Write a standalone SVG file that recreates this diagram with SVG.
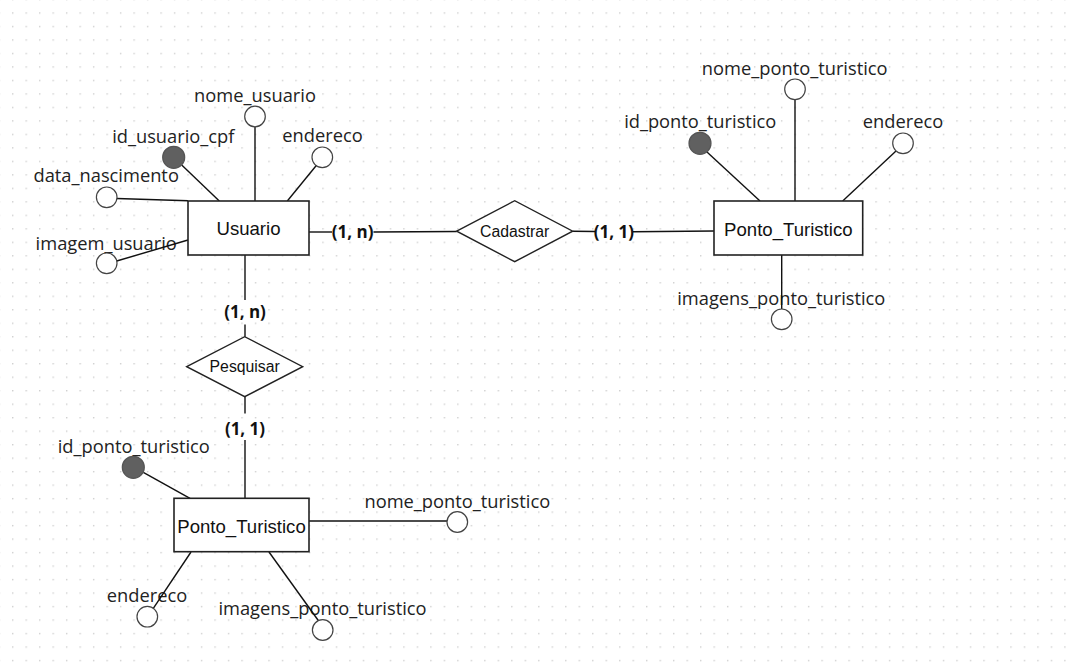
<svg xmlns="http://www.w3.org/2000/svg" width="1066" height="670" viewBox="0 0 1066 670">
<defs>
<pattern id="grid" x="12" y="12.3" width="13.49" height="13.49" patternUnits="userSpaceOnUse">
<rect x="0" y="0" width="1.4" height="1.4" fill="#cfcfcf"/>
</pattern>
<style>
.ent{fill:#fff;stroke:#222;stroke-width:1.6}
.rel{fill:#fff;stroke:#222;stroke-width:1.4}
.att{fill:#fff;stroke:#444;stroke-width:1.2}
.key{fill:#606060;stroke:#555;stroke-width:1.2}
.ln{stroke:#111;stroke-width:1.4;fill:none}
.at{font-family:"Open Sans","Noto Sans",sans-serif;font-size:18.3px;fill:#222;text-anchor:middle}
.et{font-family:"Liberation Sans",Arial,sans-serif;font-size:18.6px;fill:#111;text-anchor:middle;dominant-baseline:central}
.rt{font-family:"Liberation Sans",Arial,sans-serif;font-size:15.8px;fill:#111;text-anchor:middle;dominant-baseline:central}
.ct{font-family:"Open Sans","Noto Sans",sans-serif;font-size:17px;font-weight:700;fill:#111;text-anchor:middle;dominant-baseline:central}
</style>
</defs>
<rect width="1066" height="670" fill="#fff"/>
<rect width="1066" height="670" fill="url(#grid)"/>

<g id="attr-labels">
<text class="at" x="255" y="102">nome_usuario</text>
<text class="at" x="173.3" y="142.5">id_usuario_cpf</text>
<text class="at" x="322.5" y="142">endereco</text>
<text class="at" x="106.2" y="181.5">data_nascimento</text>
<text class="at" x="106.2" y="250">imagem_usuario</text>
<text class="at" x="794.7" y="75">nome_ponto_turistico</text>
<text class="at" x="700.2" y="128.3">id_ponto_turistico</text>
<text class="at" x="903" y="128">endereco</text>
<text class="at" x="781.3" y="305">imagens_ponto_turistico</text>
<text class="at" x="133.8" y="453.3">id_ponto_turistico</text>
<text class="at" x="457.3" y="508.3">nome_ponto_turistico</text>
<text class="at" x="147" y="601.7">endereco</text>
<text class="at" x="322.5" y="615">imagens_ponto_turistico</text>
</g>

<g id="connectors">
<line class="ln" x1="255" y1="127" x2="255" y2="201"/>
<line class="ln" x1="181.7" y1="165" x2="219.3" y2="201"/>
<line class="ln" x1="316.7" y1="165" x2="287.3" y2="201"/>
<line class="ln" x1="116.7" y1="198.5" x2="188" y2="200.7"/>
<line class="ln" x1="116.7" y1="261" x2="188" y2="240"/>
<line class="ln" x1="795" y1="100" x2="795" y2="201"/>
<line class="ln" x1="706.7" y1="151.7" x2="760" y2="201"/>
<line class="ln" x1="896" y1="151" x2="842.7" y2="201"/>
<line class="ln" x1="781.7" y1="255" x2="781.7" y2="309.3"/>
<line class="ln" x1="143.3" y1="472.3" x2="190" y2="498.3"/>
<line class="ln" x1="309" y1="521" x2="447.3" y2="521"/>
<line class="ln" x1="153.3" y1="608.3" x2="191" y2="552"/>
<line class="ln" x1="318.3" y1="620.5" x2="269" y2="552"/>
<line class="ln" x1="309" y1="232" x2="332" y2="232"/>
<line class="ln" x1="373.5" y1="232" x2="456.7" y2="231.5"/>
<line class="ln" x1="572.7" y1="231.3" x2="595" y2="231.5"/>
<line class="ln" x1="633" y1="231.7" x2="714" y2="231"/>
<line class="ln" x1="245" y1="255" x2="245" y2="300"/>
<line class="ln" x1="245" y1="324.5" x2="245" y2="336.7"/>
<line class="ln" x1="245" y1="396.7" x2="245" y2="413.5"/>
<line class="ln" x1="245" y1="440" x2="245" y2="498.3"/>
</g>

<g id="cardinalities">
<text class="ct" x="352.7" y="231.7">(1, n)</text>
<text class="ct" x="613.8" y="231.7">(1, 1)</text>
<text class="ct" x="245" y="311.7">(1, n)</text>
<text class="ct" x="245" y="428.3">(1, 1)</text>
</g>

<g id="attr-circles">
<circle class="att" cx="255" cy="116.5" r="10.3"/>
<circle class="key" cx="173.7" cy="157.3" r="11"/>
<circle class="att" cx="322.3" cy="157.3" r="10.3"/>
<circle class="att" cx="106.7" cy="197.3" r="10.3"/>
<circle class="att" cx="106.7" cy="263.3" r="10.3"/>
<circle class="att" cx="795" cy="89.3" r="10.3"/>
<circle class="key" cx="700" cy="143.3" r="11"/>
<circle class="att" cx="903" cy="143.3" r="10.3"/>
<circle class="att" cx="781.7" cy="319.3" r="10.3"/>
<circle class="key" cx="133.3" cy="467.3" r="11"/>
<circle class="att" cx="457.3" cy="522" r="10.3"/>
<circle class="att" cx="147.3" cy="616.7" r="10.3"/>
<circle class="att" cx="322.7" cy="630" r="10.3"/>
</g>

<g id="usuario">
<rect class="ent" x="188" y="201" width="121" height="54"/>
<text class="et" x="248.5" y="228">Usuario</text>
</g>
<g id="ponto-turistico-right">
<rect class="ent" x="714" y="201" width="148.7" height="54"/>
<text class="et" x="788.3" y="229">Ponto_Turistico</text>
</g>
<g id="ponto-turistico-bottom">
<rect class="ent" x="174" y="498.3" width="135" height="53.4"/>
<text class="et" x="241.5" y="526.5">Ponto_Turistico</text>
</g>
<g id="cadastrar">
<polygon class="rel" points="456.7,231.2 514.7,200.7 572.7,231.2 514.7,261.7"/>
<text class="rt" x="514.7" y="231">Cadastrar</text>
</g>
<g id="pesquisar">
<polygon class="rel" points="186.7,366.7 244.7,336.7 302.7,366.7 244.7,396.7"/>
<text class="rt" x="244.7" y="366.7">Pesquisar</text>
</g>
</svg>
